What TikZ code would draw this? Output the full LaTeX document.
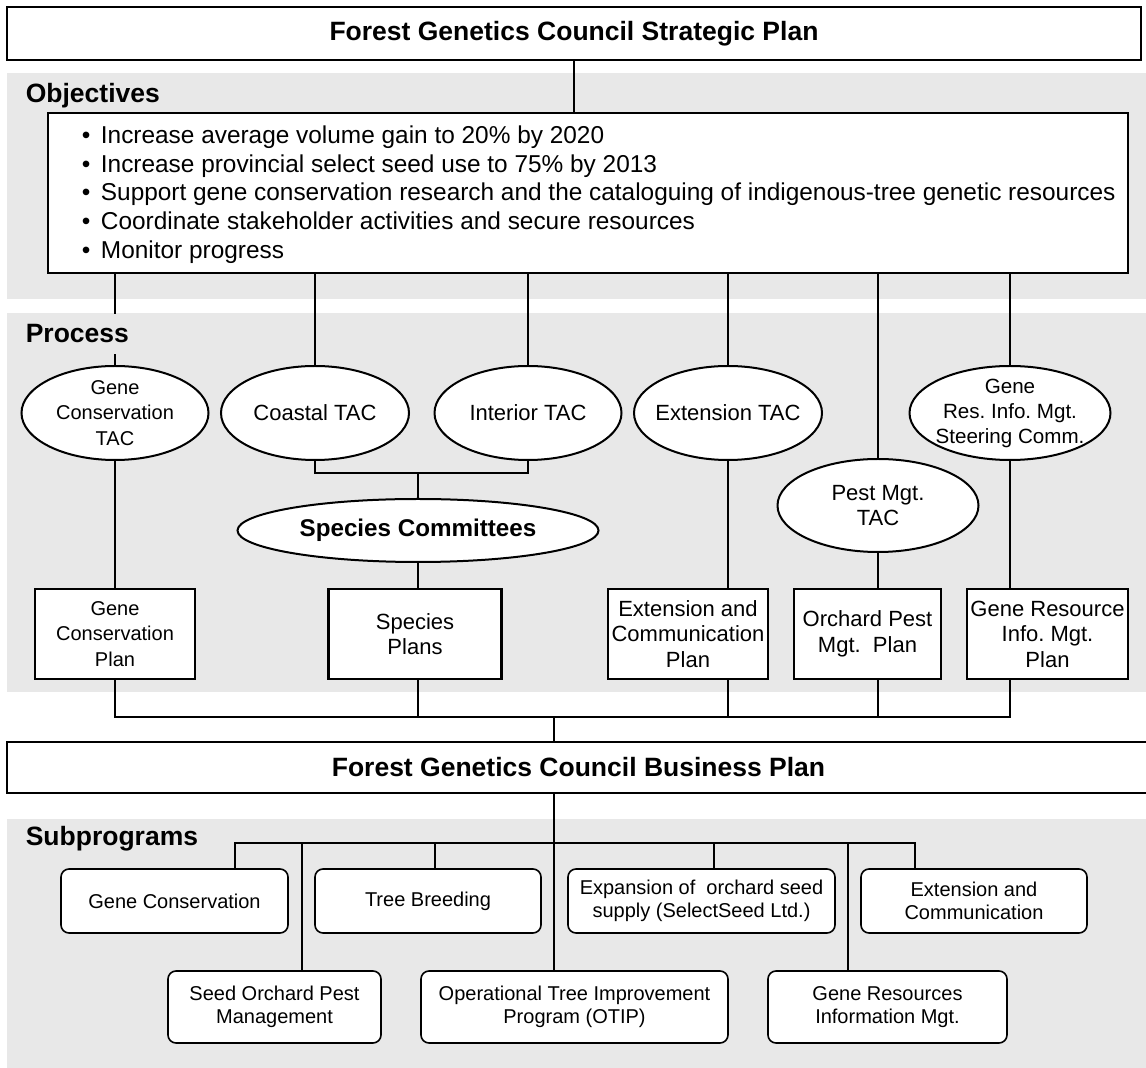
\documentclass[tikz,border=0pt]{standalone}
\usepackage{fontspec}
\setmainfont{Liberation Sans}
\usepackage{xcolor}
\usepackage{tikz}
\usetikzlibrary{shapes.geometric}

\definecolor{bandgray}{RGB}{232,232,232}

\begin{document}
\frenchspacing
\begin{tikzpicture}[x=0.5pt, y=-0.5pt, thick]
        % Define styles
        \tikzstyle{titlebox} = [rectangle, draw, line width=1.2pt, fill=white, inner sep=0pt, font=\fontsize{13.25}{16}\selectfont\bfseries]
        \tikzstyle{goalbox} = [rectangle, draw, line width=1.1pt, fill=white, minimum width=540pt, minimum height=80pt]
        \tikzstyle{tac} = [ellipse, draw, line width=1pt, fill=white, inner sep=-8pt, align=center, font=\fontsize{11}{12.75}\selectfont]
        \tikzstyle{planbox} = [rectangle, draw, line width=1.1pt, fill=white, minimum height=45pt, inner sep=0pt, align=center, font=\fontsize{11}{12.75}\selectfont]
        \tikzstyle{subbox} = [rectangle, rounded corners=4pt, draw, line width=0.8pt, fill=white, inner sep=0pt, align=center, font=\fontsize{10}{11.25}\selectfont]
        \tikzstyle{heading} = [anchor=base west, inner sep=0pt, font=\fontsize{13.25}{16}\selectfont\bfseries]
        \tikzstyle{link} = [draw, line width=0.9pt]
        \tikzstyle{sublink} = [draw, line width=0.75pt]

        \useasboundingbox (0,0) rectangle (1146,1068);

        % Bands
        \fill [bandgray] (7,73) rectangle (1146,299);
        \fill [bandgray] (7,313) rectangle (1146,692);
        \fill [bandgray] (7,819) rectangle (1146,1068);

        % Nodes
        \node (strategic) [titlebox, minimum width=567pt, minimum height=26.5pt] at (574,33.5) {Forest Genetics Council Strategic Plan};

        \node (objhead) [heading] at (25,103) {Objectives};
        \node (objectives) [goalbox] at (588,193) {};
        \node (objtext) [anchor=west, inner sep=0pt, align=left, font=\fontsize{12.2}{14.4}\selectfont] at (81,194.5)
          {\textbullet\hspace{5.3pt}Increase average volume gain to 20\% by 2020\\
           \textbullet\hspace{5.3pt}Increase provincial select seed use to 75\% by 2013\\
           \textbullet\hspace{5.3pt}Support gene conservation research and the cataloguing of indigenous-tree genetic resources\\
           \textbullet\hspace{5.3pt}Coordinate stakeholder activities and secure resources\\
           \textbullet\hspace{5.3pt}Monitor progress};

        \node (gctac) [tac, minimum width=93.5pt, minimum height=47pt, font=\fontsize{10}{12.75}\selectfont] at (115,413) {Gene\\Conservation\\TAC};
        \node (coastal) [tac, minimum width=94pt, minimum height=47pt] at (315,413) {Coastal TAC};
        \node (interior) [tac, minimum width=93.5pt, minimum height=47pt] at (528,413) {Interior TAC};
        \node (extension) [tac, minimum width=94pt, minimum height=47pt] at (728,413) {Extension TAC};
        \node (genres) [tac, minimum width=100.5pt, minimum height=47pt, font=\fontsize{10.3}{12.5}\selectfont] at (1010,413) {Gene\\Res. Info. Mgt.\\Steering Comm.};

        \node (species) [tac, minimum width=180.5pt, minimum height=31.5pt, font=\fontsize{12.1}{14}\selectfont\bfseries] at (418,530.5) {Species Committees};
        \node (pestmgt) [tac, minimum width=100.5pt, minimum height=46.5pt] at (878,505.5) {Pest Mgt.\\TAC};

        \node (gcplan) [planbox, minimum width=80pt, font=\fontsize{10}{12.75}\selectfont] at (115,634) {Gene\\Conservation\\Plan};
        \node (spplan) [planbox, minimum width=86.5pt] at (415,634) {Species\\Plans};
        \node (ecplan) [planbox, minimum width=80pt] at (688,634) {Extension and\\Communication\\Plan};
        \node (opplan) [planbox, minimum width=73.5pt] at (867.5,634) {Orchard Pest\\Mgt.~ Plan};
        \node (grplan) [planbox, minimum width=80.5pt] at (1047.5,634) {Gene Resource\\Info. Mgt.\\Plan};

        \node (business) [titlebox, minimum width=571.5pt, minimum height=25.5pt] at (578.5,767.5) {Forest Genetics Council Business Plan};

        \node (subhead) [heading] at (25,846) {Subprograms};
        \node (gcsub) [subbox, minimum width=113.5pt, minimum height=32pt] at (174.5,901) {Gene Conservation};
        \node (tbsub) [subbox, minimum width=113pt, minimum height=32pt] at (428,901) {Tree Breeding};
        \node (exsub) [subbox, minimum width=133.5pt, minimum height=32pt] at (701.5,901) {Expansion of~ orchard seed\\supply (SelectSeed Ltd.)};
        \node (ecsub) [subbox, minimum width=113pt, minimum height=32pt] at (974,901) {Extension and\\Communication};
        \node (sosub) [subbox, minimum width=106.5pt, minimum height=36pt] at (274.5,1007) {Seed Orchard Pest\\Management};
        \node (otsub) [subbox, minimum width=153.5pt, minimum height=36pt] at (574.5,1007) {Operational Tree Improvement\\Program (OTIP)};
        \node (grsub) [subbox, minimum width=119.5pt, minimum height=36pt] at (887.5,1007) {Gene Resources\\Information Mgt.};

        \coordinate (spbus) at (418,473);
        \coordinate (pbus) at (554,717);
        \coordinate (sbus) at (554,843);

        % Connections
        \draw [link] (strategic.south) -- (strategic.south |- objectives.north);

        \draw [link] (objectives.south -| gctac) -- (gctac.north);
        \draw [link] (objectives.south -| coastal) -- (coastal.north);
        \draw [link] (objectives.south -| interior) -- (interior.north);
        \draw [link] (objectives.south -| extension) -- (extension.north);
        \draw [link] (objectives.south -| pestmgt) -- (pestmgt.north);
        \draw [link] (objectives.south -| genres) -- (genres.north);

        \draw [link] (coastal.south) |- (spbus) -| (interior.south);
        \draw [link] (spbus) -- (species.north);

        \draw [link] (gctac.south) -- (gcplan.north);
        \draw [link] (species.south) -- (spplan.north -| species);
        \draw [link] (extension.south) -- (ecplan.north -| extension);
        \draw [link] (pestmgt.south) -- (opplan.north -| pestmgt);
        \draw [link] (genres.south) -- (grplan.north -| genres);

        \draw [link] (gcplan.south) |- (pbus);
        \draw [link] (spplan.south -| species) |- (pbus);
        \draw [link] (ecplan.south -| extension) |- (pbus);
        \draw [link] (opplan.south -| pestmgt) |- (pbus);
        \draw [link] (grplan.south -| genres) |- (pbus);
        \draw [link] (pbus) -- (pbus |- business.north);

        \draw [sublink] (sbus |- business.south) -- (sbus |- otsub.north);
        \draw [sublink] ([xshift=30.25pt]gcsub.north) |- (sbus);
        \draw [sublink] ([xshift=3.5pt]tbsub.north) |- (sbus);
        \draw [sublink] ([xshift=6.25pt]exsub.north) |- (sbus);
        \draw [sublink] ([xshift=-29.5pt]ecsub.north) |- (sbus);
        \draw [sublink] ([xshift=13.75pt]sosub.north) |- (sbus);
        \draw [sublink] ([xshift=-19.75pt]grsub.north) |- (sbus);

        % Heading over the first line
        \node (prochead) [heading, fill=bandgray, inner ysep=5.5pt] at (25,343) {Process};

    \end{tikzpicture}
\end{document}
